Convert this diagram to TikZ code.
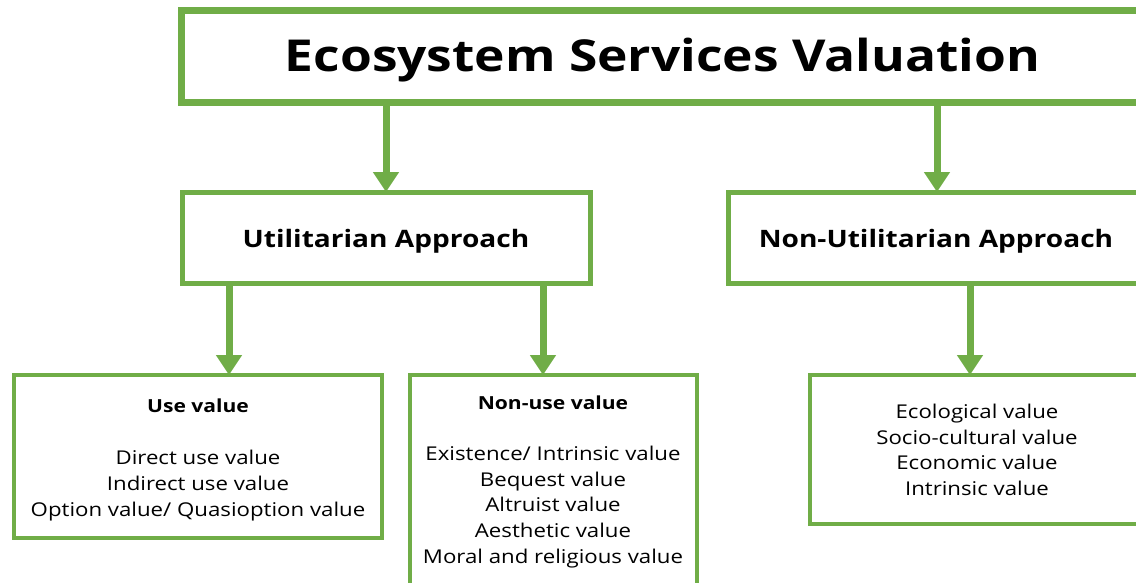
\documentclass[tikz,border=0pt]{standalone}
\usepackage{fontspec}
\setmainfont{Open Sans}
\usetikzlibrary{arrows.meta}
\definecolor{esgreen}{HTML}{70AD47}
\tikzset{
  topbox/.style={draw=esgreen, line width=7pt, rectangle, inner sep=0pt},
  midbox/.style={draw=esgreen, line width=5pt, rectangle, inner sep=0pt},
  lowbox/.style={draw=esgreen, line width=4pt, rectangle, inner sep=0pt},
  arr/.style={draw=esgreen, line width=7pt, -{Triangle[width=25pt,length=20pt]}, shorten >=-2pt},
  wide/.style={xscale=1.17, transform shape},
  bodytxt/.style={wide, align=center, font=\fontsize{19}{25.8}\selectfont, inner sep=0pt},
  headtxt/.style={wide, font=\fontsize{18}{20}\selectfont\bfseries, inner sep=0pt},
  midtxt/.style={wide, font=\fontsize{24}{26}\selectfont\bfseries, inner sep=0pt},
  titletxt/.style={wide, font=\fontsize{44}{50}\selectfont\bfseries, inner sep=0pt}
}
\begin{document}
\begin{tikzpicture}[x=1pt,y=-1pt]
\useasboundingbox (0,0) rectangle (1136,582);
\clip (0,0) rectangle (1136,582);
% boxes
\node[topbox, minimum width=963pt, minimum height=92pt] (top) at (662.5,56.5) {};
\node[titletxt] (toptxt) at (662.5,60) {Ecosystem Services Valuation};
\node[midbox, minimum width=408pt, minimum height=91pt] (util) at (386,238) {};
\node[midtxt] (utiltxt) at (386,241) {Utilitarian Approach};
\node[midbox, minimum width=416pt, minimum height=91pt] (nonutil) at (936,238) {};
\node[midtxt] (nonutiltxt) at (936,241) {Non-Utilitarian Approach};
\node[lowbox, minimum width=368pt, minimum height=163pt] (usev) at (198,456.5) {};
\node[headtxt] (usevh) at (198,406) {Use value};
\node[bodytxt] (usevb) at (198,485.5) {Direct use value\\Indirect use value\\Option value/ Quasioption value};
\node[lowbox, minimum width=287.5pt, minimum height=220pt] (nonuse) at (553.25,485) {};
\node[headtxt] (nonuseh) at (553,403) {Non-use value};
\node[bodytxt] (nonuseb) at (553,507) {Existence/ Intrinsic value\\Bequest value\\Altruist value\\Aesthetic value\\Moral and religious value};
\node[lowbox, minimum width=334pt, minimum height=148.5pt] (eco) at (977,449.25) {};
\node[bodytxt] (ecob) at (977,449.8) {Ecological value\\Socio-cultural value\\Economic value\\Intrinsic value};
% arrows
\draw[arr] (top.south -| 386,0) -- (util.north -| 386,0);
\draw[arr] (top.south -| 937,0) -- (nonutil.north -| 937,0);
\draw[arr] (util.south -| 229,0) -- (usev.north -| 229,0);
\draw[arr] (util.south -| 543,0) -- (nonuse.north -| 543,0);
\draw[arr] (nonutil.south -| 970,0) -- (eco.north -| 970,0);
\end{tikzpicture}
\end{document}
